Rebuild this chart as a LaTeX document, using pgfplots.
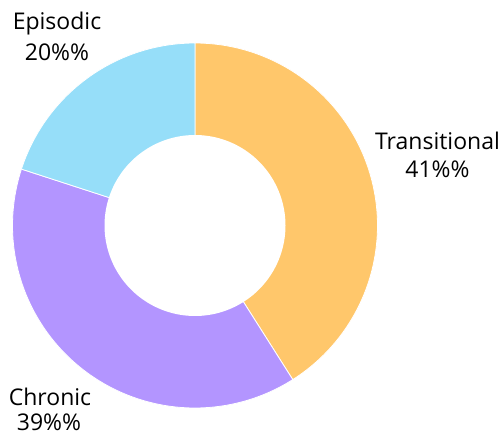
\documentclass[border=0pt]{standalone}
\usepackage{pgfplots}
\pgfplotsset{compat=1.18}
\usepackage{pgfplotstable}
\usepackage{fontspec}
\setmainfont{Open Sans}
\definecolor{ctrans}{HTML}{FFC76B}
\definecolor{cchron}{HTML}{B395FF}
\definecolor{cepis}{HTML}{96DEF9}
\pgfplotstableread{
label value
Transitional 41
Chronic 39
Episodic 20
}\slices
\begin{document}
\begin{tikzpicture}
\pgfplotstablegetelem{0}{value}\of\slices \let\vA\pgfplotsretval
\pgfplotstablegetelem{1}{value}\of\slices \let\vB\pgfplotsretval
\pgfplotstablegetelem{2}{value}\of\slices \let\vC\pgfplotsretval
\pgfmathsetmacro\aO{90}
\pgfmathsetmacro\aA{90-3.6*\vA}
\pgfmathsetmacro\aB{\aA-3.6*\vB}
\pgfmathsetmacro\aC{\aB-3.6*\vC}
\def\cx{195}\def\cy{208.5}\def\R{182.5}\def\r{90.5}
\begin{axis}[scale only axis, width=504pt, height=434pt,
  xmin=0, xmax=504, ymin=0, ymax=434, hide axis, clip=false]
\addplot[fill=ctrans, draw=white, line width=0.8pt, domain=\aA:\aO, samples=120, variable=\t]
  ({\cx+\R*cos(\t)},{\cy+\R*sin(\t)}) -- (axis cs:\cx,\cy) -- cycle;
\addplot[fill=cchron, draw=white, line width=0.8pt, domain=\aB:\aA, samples=120, variable=\t]
  ({\cx+\R*cos(\t)},{\cy+\R*sin(\t)}) -- (axis cs:\cx,\cy) -- cycle;
\addplot[fill=cepis, draw=white, line width=0.8pt, domain=\aC:\aB, samples=120, variable=\t]
  ({\cx+\R*cos(\t)},{\cy+\R*sin(\t)}) -- (axis cs:\cx,\cy) -- cycle;
\addplot[fill=white, draw=none, domain=0:360, samples=160, variable=\t]
  ({\cx+\r*cos(\t)},{\cy+\r*sin(\t)}) -- cycle;
\begin{scope}[every node/.style={font=\fontsize{23}{27}\selectfont, anchor=base, inner sep=0pt}]
\node at (axis cs:57,404) {Episodic};
\node at (axis cs:57,373) {20\%\%};
\node at (axis cs:437.5,284) {Transitional};
\node at (axis cs:437.5,256) {41\%\%};
\node at (axis cs:50,28) {Chronic};
\node at (axis cs:49,3) {39\%\%};
\end{scope}
\end{axis}
\pgfresetboundingbox
\useasboundingbox (0,0) rectangle (504pt,434pt);
\end{tikzpicture}
\end{document}
